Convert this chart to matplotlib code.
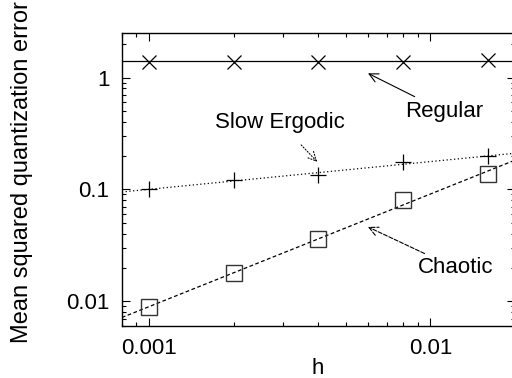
import numpy as np
import matplotlib
matplotlib.use("Agg")
import matplotlib.pyplot as plt
from matplotlib.ticker import FixedLocator, FixedFormatter, LogLocator, NullFormatter

plt.rcParams['font.family'] = ['Liberation Sans', 'DejaVu Sans']

# step sizes
h = [0.001, 0.002, 0.004, 0.008, 0.016]

regular = [1.39, 1.39, 1.39, 1.39, 1.42]
slow_ergodic = [0.101, 0.120, 0.134, 0.174, 0.198]
chaotic = [0.0088, 0.0178, 0.036, 0.080, 0.136]

xticks = [0.001, 0.01]
xtick_labels = ["0.001", "0.01"]
yticks = [0.01, 0.1, 1]
ytick_labels = ["0.01", "0.1", "1"]

fig = plt.figure(figsize=(5.12, 3.78), dpi=100)
ax = fig.add_axes([0.238, 0.1376, 0.768, 0.7751])

xlo, xhi = 0.0008, 0.02
xs = np.array([xlo, xhi])
lh = np.log10(h)

# power-law fits through each set
c_reg = np.mean(np.log10(regular))
p_slow = np.polyfit(lh, np.log10(slow_ergodic), 1)
p_chao = np.polyfit(lh, np.log10(chaotic), 1)

ax.plot(xs, [10 ** c_reg] * 2, color='black', lw=0.9)
ax.plot(xs, 10 ** np.polyval(p_slow, np.log10(xs)), color='black', lw=0.9, ls=(0, (1, 2)))
ax.plot(xs, 10 ** np.polyval(p_chao, np.log10(xs)), color='black', lw=0.9, ls=(0, (3, 2)))

ax.plot(h, regular, 'x', color='black', ms=10, mew=0.9)
ax.plot(h, slow_ergodic, '+', color='black', ms=11, mew=0.9)
ax.plot(h, chaotic, 's', mfc='none', mec='#333333', ms=11, mew=1.0)

ax.set_xscale('log')
ax.set_yscale('log')
ax.set_xlim(xlo, xhi)
ax.set_ylim(0.006, 2.5)

ax.xaxis.set_major_locator(FixedLocator(xticks))
ax.xaxis.set_major_formatter(FixedFormatter(xtick_labels))
ax.yaxis.set_major_locator(FixedLocator(yticks))
ax.yaxis.set_major_formatter(FixedFormatter(ytick_labels))
ax.xaxis.set_minor_locator(LogLocator(base=10, subs=np.arange(2, 10)))
ax.yaxis.set_minor_locator(LogLocator(base=10, subs=np.arange(2, 10)))
ax.xaxis.set_minor_formatter(NullFormatter())
ax.yaxis.set_minor_formatter(NullFormatter())

ax.tick_params(which='both', direction='in', top=True, right=True, labelsize=16, width=0.8)
ax.tick_params(which='major', length=6, pad=9)
ax.tick_params(which='minor', length=3)
for s in ax.spines.values():
    s.set_linewidth(1.0)

ax.annotate("Regular", xy=(0.006, 1.09), xytext=(0.0081, 0.50),
            fontsize=16, va='center', ha='left',
            arrowprops=dict(arrowstyle='->', color='black', lw=0.8,
                            shrinkA=2, shrinkB=0))
ax.annotate("Slow Ergodic", xy=(0.00396, 0.176), xytext=(0.00292, 0.395),
            fontsize=16, va='center', ha='center',
            arrowprops=dict(arrowstyle='->', color='black', lw=0.8, ls=':',
                            shrinkA=9, shrinkB=0))
ax.annotate("Chaotic", xy=(0.006, 0.0461), xytext=(0.0090, 0.0198),
            fontsize=16, va='center', ha='left',
            arrowprops=dict(arrowstyle='->', color='black', lw=0.8, ls='--',
                            shrinkA=2, shrinkB=0))

fig.text(22 / 512, 1 - 172 / 378, "Mean squared quantization error",
         rotation=90, ha='center', va='center', fontsize=17)
fig.text(318 / 512, 1 - 368 / 378, "h", ha='center', va='center', fontsize=16)

fig.savefig("out.png", dpi=100)
